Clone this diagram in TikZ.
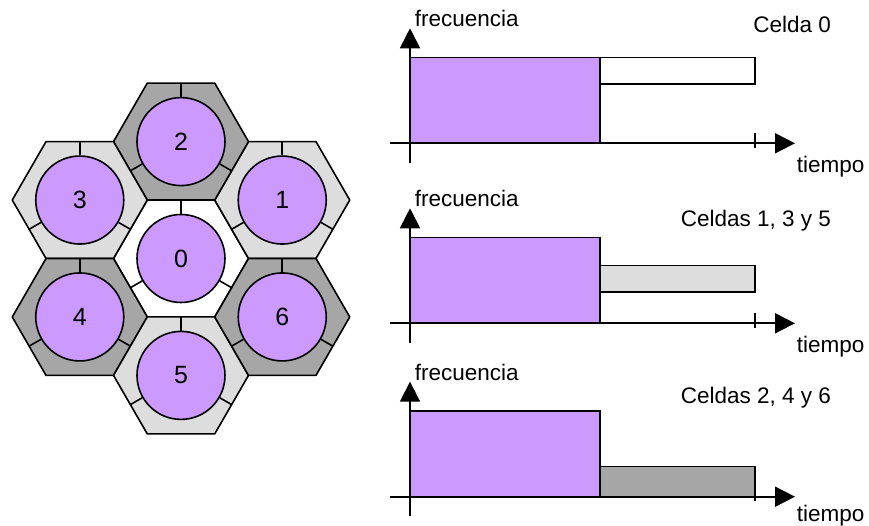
\documentclass[tikz,border=0pt]{standalone}
\usepackage{fontspec}
\setmainfont{Liberation Sans}
\usetikzlibrary{arrows.meta}

\definecolor{cellpurple}{HTML}{CC99FF}
\definecolor{reuselight}{HTML}{DDDDDD}
\definecolor{reusedark}{HTML}{A6A6A6}

\begin{document}
\begin{tikzpicture}[
  x=1pt, y=1pt, line width=1.6pt,
  hexcell/.style={draw, line join=round},
  cell/.style={circle, draw, fill=cellpurple, minimum size=88pt,
               inner sep=0pt, font=\fontsize{25}{25}\selectfont},
  axis/.style={line width=1.8pt, -{Triangle[length=20pt, width=20pt]}},
  band/.style={draw, line join=miter},
  lbl/.style={inner sep=0pt, font=\fontsize{22.5}{22.5}\selectfont}
]
  \useasboundingbox (0,0) rectangle (869,526);

  % cluster: centre cell and its six neighbours
  \coordinate (h0) at (181,267.5);
  \foreach \n/\ang in {1/30, 2/90, 3/150, 4/210, 5/270, 6/330}
    \path (h0) ++(\ang:116.9) coordinate (h\n);

  \foreach \n/\col in {0/white, 1/reuselight, 2/reusedark, 3/reuselight,
                       4/reusedark, 5/reuselight, 6/reusedark}
    \draw[hexcell, fill=\col] (h\n) ++(0:67.5) -- ++(120:67.5) -- ++(180:67.5)
      -- ++(240:67.5) -- ++(300:67.5) -- ++(0:67.5) -- cycle;

  \foreach \n in {0,...,6} {
    \node[cell] (cell\n) at (h\n) {\n};
    \foreach \ang in {90,210,330}
      \draw (cell\n.\ang) -- ++(\ang:13.7);
  }

  % frequency/time charts
  \foreach \y/\lo/\hi/\col/\title/\ty/\tb [count=\k] in
      {382.7/59/85.6/white/{Celda 0}/111/-29,
       202.7/31/57.6/reuselight/{Celdas 1, 3 y 5}/96.6/-29,
       29.3/0/30/reusedark/{Celdas 2, 4 y 6}/93/-24.5} {
    \begin{scope}[shift={(410,\y)}]
      \coordinate (o\k) at (0,0);
      \coordinate (xl\k) at (-20,0);
      \coordinate (xr\k) at (385,0);
      \coordinate (yb\k) at (0,-19.4);
      \coordinate (yt\k) at (0,115);
      \draw[band, fill=cellpurple] (o\k) rectangle (190,85.6);
      \draw[band, fill=\col] (190,\lo) rectangle (345,\hi);
      \draw (345,-4.4) coordinate (tb\k) -- (345,10.3) coordinate (tt\k);
      \draw[axis] (xl\k) -- (xr\k);
      \draw[axis] (yb\k) -- (yt\k);
      \node[lbl, anchor=base west] (freq\k) at (4,116.5) {frecuencia};
      \node[lbl, anchor=base east] (title\k) at (421.7,\ty) {\title};
      \node[lbl, anchor=base west] (time\k) at (386,\tb) {tiempo};
    \end{scope}
  }
\end{tikzpicture}
\end{document}
